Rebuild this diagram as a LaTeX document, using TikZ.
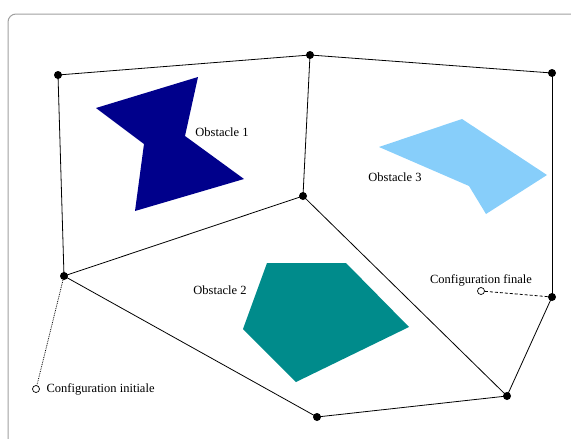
\documentclass[tikz,border=0pt]{standalone}
\usepackage{fontspec}
\setmainfont{Liberation Serif}
\usetikzlibrary{positioning}
\definecolor{obsone}{RGB}{0,0,139}
\definecolor{obstwo}{RGB}{0,139,139}
\definecolor{obsthree}{RGB}{135,206,250}
\tikzset{circ/.style = {fill, circle, inner sep = 0, minimum size = 8}}
\tikzset{conf/.style = {draw, fill=white, circle, inner sep = 0, minimum size = 7, line width=0.7pt}}
\tikzset{
  every picture/.style={
    every path/.style={line width=0.8pt},
  }
}

\begin{document}
\begin{tikzpicture}[x=1pt, y=-1pt, font=\fontsize{12.5}{14}\selectfont]
        \useasboundingbox (0,0) rectangle (571,439);
        \draw[gray!75, line width=1pt, rounded corners=8] (8,439) |- (571,14);
        \fill[obsone] (96,108) -- (198,77) -- (185,136) -- (244,179) -- (135,211) -- (144,144) -- cycle;
        \fill[obstwo] (267,263) -- (346,263) -- (409,327) -- (296,382) -- (243,329) -- cycle;
        \fill[obsthree] (379,147) -- (462,119) -- (547,175) -- (486,214) -- (469,186) -- cycle;
        \node (ob1) at (222,132) {Obstacle 1};
        \node (ob2) at (220,290) {Obstacle 2};
        \node (ob3) at (395,177) {Obstacle 3};
        \node[circ] (v1) at (58,75) {};
        \node[circ] (v2) at (310,55) {};
        \node[circ] (v3) at (552,73) {};
        \node[circ] (v4) at (303,196) {};
        \node[circ] (v5) at (64,276) {};
        \node[circ] (v6) at (552,297) {};
        \node[circ] (v7) at (317,417) {};
        \node[circ] (v8) at (507,396) {};
        \node[conf, label={[label distance=3pt]right:Configuration initiale}] (ci) at (36,389) {};
        \node[conf, label={[label distance=-3pt]above:Configuration finale}] (cf) at (481,291) {};
        \draw (v1.center) -- (v2.center);
        \draw (v2.center) -- (v3.center);
        \draw (v1.center) -- (v5.center);
        \draw (v2.center) -- (v4.center);
        \draw (v3.center) -- (v6.center);
        \draw (v4.center) -- (v5.center);
        \draw (v4.center) -- (v8.center);
        \draw (v5.center) -- (v7.center);
        \draw (v7.center) -- (v8.center);
        \draw (v8.center) -- (v6.center);
        \draw[densely dotted] (v5) -- (ci);
        \draw[densely dashed] (v6) -- (cf);
    \end{tikzpicture}
\end{document}
